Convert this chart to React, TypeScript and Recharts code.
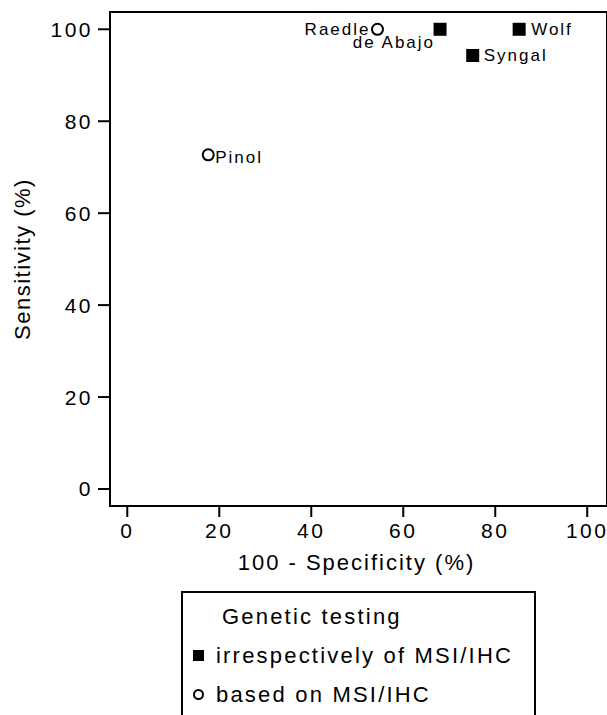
import { ScatterChart, Scatter, XAxis, YAxis, ReferenceArea, Label } from 'recharts';

const FONT = 'Arial, "Liberation Sans", Helvetica, sans-serif';

// genetic testing irrespectively of MSI/IHC (filled squares)
const irrespectiveStudies = ['de Abajo', 'Syngal', 'Wolf'];
const irrespectiveFpr = [68.0, 75.1, 85.2]; // 100 - specificity
const irrespectiveSens = [100, 94.3, 100];

// genetic testing based on MSI/IHC (open circles)
const msiStudies = ['Raedle', 'Pinol'];
const msiFpr = [54.4, 17.6];
const msiSens = [100, 72.7];

const axisTicks = [0, 20, 40, 60, 80, 100];

const SERIES_SQUARE = 'irrespectively of MSI/IHC';
const SERIES_CIRCLE = 'based on MSI/IHC';

// where each study name sits relative to its marker
const labelPlacement: Record<string, { dx: number; dy: number; anchor: 'start' | 'end' }> = {
  'de Abajo': { dx: -5, dy: 19, anchor: 'end' },
  Syngal: { dx: 11, dy: 6, anchor: 'start' },
  Wolf: { dx: 12, dy: 6, anchor: 'start' },
  Raedle: { dx: -7, dy: 6, anchor: 'end' },
  Pinol: { dx: 7, dy: 8, anchor: 'start' },
};

const irrespectiveData = irrespectiveStudies.map((name, i) => ({
  name,
  x: irrespectiveFpr[i],
  y: irrespectiveSens[i],
}));
const msiData = msiStudies.map((name, i) => ({ name, x: msiFpr[i], y: msiSens[i] }));

function StudyLabel({ cx, cy, name }: { cx: number; cy: number; name: string }) {
  const p = labelPlacement[name] ?? { dx: 10, dy: 6, anchor: 'start' };
  return (
    <text
      x={cx + p.dx}
      y={cy + p.dy}
      textAnchor={p.anchor}
      fontSize={17}
      letterSpacing={2}
      fontFamily={FONT}
      fill="#000"
    >
      {name}
    </text>
  );
}

const squareShape = (props: any) => {
  const { cx, cy, payload } = props;
  return (
    <g>
      <rect x={cx - 6.5} y={cy - 6.5} width={13} height={13} fill="#000" />
      <StudyLabel cx={cx} cy={cy} name={payload?.name} />
    </g>
  );
};

const circleShape = (props: any) => {
  const { cx, cy, payload } = props;
  return (
    <g>
      <circle cx={cx} cy={cy} r={5.5} fill="#fff" stroke="#000" strokeWidth={2} />
      <StudyLabel cx={cx} cy={cy} name={payload?.name} />
    </g>
  );
};

const XTick = (props: any) => {
  const { x, y, payload } = props;
  return (
    <text x={x} y={y} dy="0.71em" textAnchor="middle" fontSize={21} letterSpacing={2.5} fontFamily={FONT} fill="#000">
      {payload.value}
    </text>
  );
};

const YTick = (props: any) => {
  const { x, y, payload } = props;
  return (
    <text x={x} y={y} dy="0.355em" textAnchor="end" fontSize={21} letterSpacing={2.5} fontFamily={FONT} fill="#000">
      {payload.value}
    </text>
  );
};

const xDomain: [number, number] = [-3.76, 104.3];
const yDomain: [number, number] = [-3.7, 103.76];

function LegendBox() {
  const row = { display: 'flex', alignItems: 'center', height: 39 } as const;
  return (
    <div
      style={{
        position: 'absolute',
        left: 181,
        top: 591,
        width: 351,
        height: 140,
        border: '2px solid #000',
        background: '#fff',
        fontFamily: FONT,
        fontSize: 22,
        letterSpacing: 2.2,
        lineHeight: '39px',
        color: '#000',
        paddingTop: 4,
        boxSizing: 'content-box',
      }}
    >
      <div style={{ marginLeft: 39, height: 39 }}>Genetic testing</div>
      <div style={row}>
        <span style={{ display: 'inline-block', width: 11, height: 11, background: '#000', marginLeft: 10 }} />
        <span style={{ marginLeft: 12 }}>{SERIES_SQUARE}</span>
      </div>
      <div style={row}>
        <span
          style={{
            display: 'inline-block',
            width: 7,
            height: 7,
            borderRadius: '50%',
            border: '2px solid #000',
            marginLeft: 10,
          }}
        />
        <span style={{ marginLeft: 12 }}>{SERIES_CIRCLE}</span>
      </div>
    </div>
  );
}

export default function App() {
  return (
    <div style={{ position: 'absolute', left: 0, top: 0, width: 607, height: 715, overflow: 'hidden', background: '#fff' }}>
      <ScatterChart width={607} height={715} margin={{ top: 12, right: 0, bottom: 159, left: 0 }}>
        <XAxis
          type="number"
          dataKey="x"
          domain={xDomain}
          ticks={axisTicks}
          allowDataOverflow
          height={50}
          axisLine={{ stroke: '#000', strokeWidth: 2 }}
          tickLine={{ stroke: '#000', strokeWidth: 2 }}
          tickSize={11}
          tickMargin={6}
          tick={<XTick />}
        >
          <Label
            content={({ viewBox }: any) => (
              <text
                x={viewBox.x + viewBox.width / 2 - 2}
                y={viewBox.y + 64}
                textAnchor="middle"
                fontSize={22}
                letterSpacing={2}
                fontFamily={FONT}
                fill="#000"
              >
                100 - Specificity (%)
              </text>
            )}
          />
        </XAxis>
        <YAxis
          type="number"
          dataKey="y"
          domain={yDomain}
          ticks={axisTicks}
          allowDataOverflow
          width={110}
          axisLine={{ stroke: '#000', strokeWidth: 2 }}
          tickLine={{ stroke: '#000', strokeWidth: 2 }}
          tickSize={12}
          tickMargin={5}
          tick={<YTick />}
        >
          <Label
            content={({ viewBox }: any) => {
              const cy = viewBox.y + viewBox.height / 2;
              return (
                <text
                  x={29.5}
                  y={cy}
                  transform={`rotate(-90 29.5 ${cy})`}
                  textAnchor="middle"
                  fontSize={22}
                  letterSpacing={1.5}
                  fontFamily={FONT}
                  fill="#000"
                >
                  Sensitivity (%)
                </text>
              );
            }}
          />
        </YAxis>
        <ReferenceArea
          x1={xDomain[0]}
          x2={xDomain[1]}
          y1={yDomain[0]}
          y2={yDomain[1]}
          fill="none"
          fillOpacity={0}
          stroke="#000"
          strokeWidth={2}
          ifOverflow="visible"
        />
        <Scatter name={SERIES_SQUARE} data={irrespectiveData} shape={squareShape} isAnimationActive={false} />
        <Scatter name={SERIES_CIRCLE} data={msiData} shape={circleShape} isAnimationActive={false} />
      </ScatterChart>
      <LegendBox />
    </div>
  );
}
